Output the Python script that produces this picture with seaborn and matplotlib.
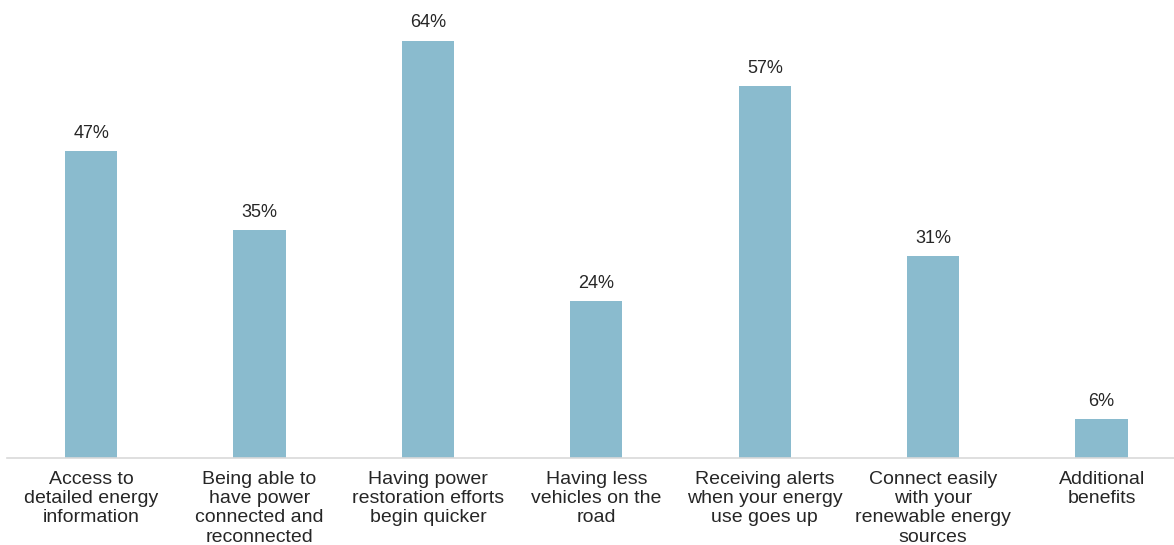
import matplotlib
matplotlib.use("Agg")
import matplotlib.pyplot as plt
import seaborn as sns
import pandas as pd

# Chart data
categories = [
    "Access to\ndetailed energy\ninformation",
    "Being able to\nhave power\nconnected and\nreconnected",
    "Having power\nrestoration efforts\nbegin quicker",
    "Having less\nvehicles on the\nroad",
    "Receiving alerts\nwhen your energy\nuse goes up",
    "Connect easily\nwith your\nrenewable energy\nsources",
    "Additional\nbenefits",
]
values = [47, 35, 64, 24, 57, 31, 6]
value_labels = ["47%", "35%", "64%", "24%", "57%", "31%", "6%"]

BAR_COLOR = "#8abbce"
TEXT_COLOR = "#262626"

sns.set_theme(style="white")
plt.rcParams["font.family"] = ["Liberation Sans", "DejaVu Sans"]

df = pd.DataFrame({"category": categories, "value": values})

fig = plt.figure(figsize=(11.74, 5.45), dpi=100)
ax = fig.add_axes([7 / 1174, 87 / 545, 1 - 7 / 1174, 450 / 545])

sns.barplot(data=df, x="category", y="value", color=BAR_COLOR,
            width=0.31, saturation=1, linewidth=0, ax=ax)

# percentage labels above bars
for i, (v, lab) in enumerate(zip(values, value_labels)):
    ax.text(i, v + 1.4, lab, ha="center", va="bottom",
            fontsize=13, color=TEXT_COLOR)

ax.set_xlim(-0.5, 6.43)
ax.set_ylim(0, 69)
ax.set_xlabel("")
ax.set_ylabel("")
ax.set_yticks([])
ax.tick_params(axis="x", length=0, pad=9, labelsize=14, colors=TEXT_COLOR)
for lbl in ax.get_xticklabels():
    lbl.set_linespacing(1.18)

for side in ["top", "right", "left"]:
    ax.spines[side].set_visible(False)
ax.spines["bottom"].set_color("#d9d9d9")
ax.spines["bottom"].set_linewidth(1.2)

fig.savefig("out.png", dpi=100)
